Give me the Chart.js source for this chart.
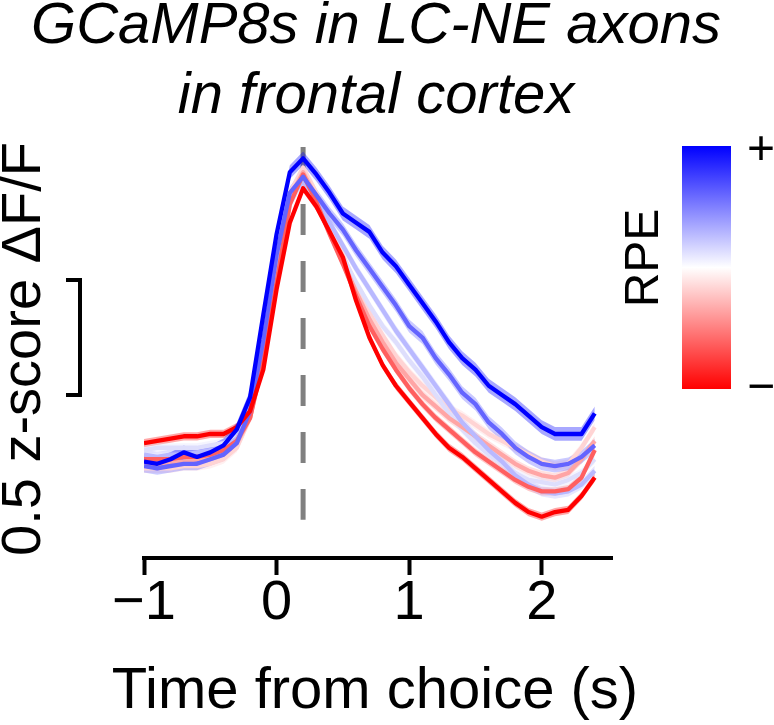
<!DOCTYPE html>
<html><head><meta charset="utf-8">
<script src="https://cdn.jsdelivr.net/npm/chart.js@4.4.1/dist/chart.umd.min.js"></script>
<style>html,body{margin:0;padding:0;background:#fff;}#wrap{width:774px;height:725px;}</style>
</head><body><div id="wrap"><canvas id="c" width="774" height="725"></canvas></div>
<script>
// ---- data ----
const titleLines = ['GCaMP8s in LC-NE axons', 'in frontal cortex'];
const xTitle = 'Time from choice (s)';
const yTitle = '0.5 z-score \u0394F/F';
const colorbarTitle = 'RPE';
const colorbarEnds = ['+', '\u2212'];
const xTickValues = [-1, 0, 1, 2];
const times = [-1.0,-0.9,-0.8,-0.7,-0.6,-0.5,-0.4,-0.3,-0.2,-0.1,0.0,0.1,0.2,0.3,0.4,0.5,0.6,0.7,0.8,0.9,1.0,1.1,1.2,1.3,1.4,1.5,1.6,1.7,1.8,1.9,2.0,2.1,2.2,2.3,2.4];
// RPE bins, highest (blue) to lowest (red); z-score dF/F
const rpeBin1 = [0.01,0.00,0.02,0.05,0.03,0.05,0.08,0.15,0.29,0.65,1.00,1.27,1.33,1.26,1.18,1.09,1.05,1.01,0.92,0.86,0.78,0.70,0.62,0.53,0.46,0.41,0.34,0.30,0.26,0.21,0.16,0.13,0.13,0.13,0.22];
const rpeBin2 = [-0.01,-0.02,-0.01,0.00,0.00,0.02,0.04,0.09,0.23,0.54,0.91,1.18,1.25,1.17,1.09,1.02,0.93,0.85,0.77,0.69,0.60,0.55,0.46,0.39,0.31,0.26,0.18,0.13,0.07,0.03,0.00,-0.01,0.00,0.03,0.08];
const rpeBin3 = [0.04,0.03,0.04,0.04,0.05,0.06,0.07,0.11,0.23,0.52,0.88,1.16,1.23,1.16,1.05,0.95,0.85,0.76,0.67,0.58,0.50,0.42,0.34,0.26,0.18,0.12,0.06,0.01,-0.05,-0.09,-0.12,-0.13,-0.12,-0.09,-0.03];
const rpeBin4 = [0.06,0.07,0.07,0.07,0.07,0.08,0.09,0.12,0.23,0.50,0.84,1.13,1.24,1.13,1.01,0.90,0.79,0.69,0.60,0.53,0.45,0.38,0.30,0.22,0.15,0.09,0.04,0.00,-0.04,-0.07,-0.08,-0.09,-0.07,-0.04,0.02];
const rpeBin5 = [-0.02,-0.02,-0.02,-0.01,-0.01,0.00,0.02,0.07,0.20,0.50,0.85,1.18,1.29,1.18,1.04,0.91,0.78,0.66,0.56,0.47,0.40,0.34,0.29,0.24,0.21,0.17,0.13,0.10,0.07,0.04,0.01,-0.01,0.00,0.07,0.16];
const rpeBin6 = [0.00,0.00,0.01,0.01,0.02,0.03,0.04,0.09,0.20,0.47,0.82,1.16,1.27,1.16,1.01,0.88,0.75,0.63,0.53,0.44,0.37,0.30,0.25,0.20,0.16,0.12,0.08,0.04,0.00,-0.03,-0.05,-0.06,-0.04,0.02,0.10];
const rpeBin7 = [0.02,0.02,0.02,0.03,0.03,0.04,0.06,0.10,0.20,0.45,0.79,1.13,1.26,1.14,1.00,0.87,0.73,0.60,0.50,0.41,0.33,0.26,0.20,0.15,0.10,0.05,0.01,-0.03,-0.07,-0.10,-0.12,-0.12,-0.11,-0.06,0.06];
const rpeBin8 = [0.09,0.10,0.11,0.12,0.12,0.13,0.13,0.16,0.23,0.41,0.76,1.05,1.20,1.12,1.01,0.90,0.71,0.55,0.43,0.34,0.27,0.20,0.13,0.07,0.03,-0.02,-0.07,-0.12,-0.17,-0.21,-0.23,-0.21,-0.20,-0.14,-0.06];
const semValues = [0.03,0.028,0.022,0.02,0.02,0.02,0.018,0.018];
const choiceMarkerTime = 0.2;
const choiceMarkerSpan = [1.38, -0.243];
const scaleBarSpan = [0.3, 0.8];

// ---- styles ----
const FONT = '"Liberation Sans", Arial, Helvetica, sans-serif';
const lineRGB = [[0,0,255],[100,100,255],[185,185,255],[222,222,252],[255,212,212],[255,165,165],[255,95,95],[255,0,0]];
const lineOrder = [3,5,7,9,9,7,5,3];
const seriesValues = [rpeBin1,rpeBin2,rpeBin3,rpeBin4,rpeBin5,rpeBin6,rpeBin7,rpeBin8];

const datasets = [];
datasets.push({
  data: [{x: choiceMarkerTime, y: choiceMarkerSpan[0]}, {x: choiceMarkerTime, y: choiceMarkerSpan[1]}],
  borderColor: 'rgb(128,128,128)', borderWidth: 5, borderDash: [31, 26], pointRadius: 0, fill: false, order: 40
});
seriesValues.forEach((vals, i) => {
  const c = lineRGB[i];
  datasets.push({
    data: times.map((t, k) => ({x: t, y: vals[k] + semValues[i]})),
    borderWidth: 0, borderColor: 'rgba(0,0,0,0)', pointRadius: 0, fill: false, order: 30
  });
  datasets.push({
    data: times.map((t, k) => ({x: t, y: vals[k] - semValues[i]})),
    borderWidth: 0, borderColor: 'rgba(0,0,0,0)', pointRadius: 0, fill: '-1',
    backgroundColor: `rgba(${c[0]},${c[1]},${c[2]},0.34)`, order: 30
  });
});
seriesValues.forEach((vals, i) => {
  const c = lineRGB[i];
  datasets.push({
    data: times.map((t, k) => ({x: t, y: vals[k]})),
    borderColor: `rgb(${c[0]},${c[1]},${c[2]})`, borderWidth: 4.3, pointRadius: 0,
    fill: false, tension: 0, order: lineOrder[i], borderJoinStyle: 'round'
  });
});

const extras = {
  id: 'extras',
  afterDraw(chart) {
    const ctx = chart.ctx; const ys = chart.scales.y; const xs = chart.scales.x;
    ctx.save();
    // scale bar
    const yTop = ys.getPixelForValue(scaleBarSpan[1]);
    const yBot = ys.getPixelForValue(scaleBarSpan[0]);
    ctx.strokeStyle = '#000'; ctx.lineWidth = 4; ctx.lineJoin = 'miter'; ctx.lineCap = 'butt';
    ctx.beginPath(); ctx.moveTo(66, yTop); ctx.lineTo(80, yTop); ctx.lineTo(80, yBot); ctx.lineTo(66, yBot); ctx.stroke();
    // x-axis title
    ctx.fillStyle = '#000';
    ctx.font = '58px ' + FONT; ctx.textAlign = 'center'; ctx.textBaseline = 'alphabetic';
    ctx.fillText(xTitle, (xs.left + xs.right) / 2 - 3, 708);
    // colour bar
    const g = ctx.createLinearGradient(0, 146, 0, 389);
    g.addColorStop(0, 'rgb(0,0,255)'); g.addColorStop(0.5, 'rgb(255,255,255)'); g.addColorStop(1, 'rgb(255,0,0)');
    ctx.fillStyle = g; ctx.fillRect(682, 146, 49, 243);
    ctx.fillStyle = '#000';
    ctx.font = '48px ' + FONT; ctx.textAlign = 'left'; ctx.textBaseline = 'middle';
    ctx.fillText(colorbarEnds[0], 747, 151);
    ctx.fillText(colorbarEnds[1], 747, 389);
    ctx.translate(645, 258); ctx.rotate(-Math.PI / 2);
    ctx.textAlign = 'center'; ctx.fillText(colorbarTitle, 0, 0);
    ctx.restore();
  }
};

new Chart(document.getElementById('c'), {
  type: 'line',
  data: { datasets },
  plugins: [extras],
  options: {
    responsive: false, animation: false, devicePixelRatio: 1,
    layout: { padding: { top: -7.8, right: 22, bottom: 0, left: 0 } },
    plugins: {
      legend: { display: false }, tooltip: { enabled: false },
      title: { display: true, text: titleLines, color: '#000',
        font: { family: FONT, size: 58, style: 'italic', weight: 'normal', lineHeight: 1.2 },
        padding: { top: 0, bottom: 8.6 } }
    },
    scales: {
      x: {
        type: 'linear', position: 'bottom', min: -1, max: 2.53,
        border: { display: true, color: '#000', width: 4 },
        grid: { display: true, drawOnChartArea: false, drawTicks: true, tickLength: 17, tickWidth: 4, tickColor: '#000', color: '#000' },
        ticks: { color: '#000', font: { family: FONT, size: 56 }, padding: -5, maxRotation: 0, autoSkip: false,
          callback: v => (v < 0 ? '\u2212' + Math.abs(v) : String(v)) },
        afterBuildTicks: s => { s.ticks = xTickValues.map(v => ({ value: v })); },
        title: { display: false },
        afterFit: s => { s.height = 167; }
      },
      y: {
        type: 'linear', position: 'left', min: -0.41, max: 1.41,
        border: { display: false }, grid: { display: false }, ticks: { display: false },
        title: { display: true, text: yTitle, color: '#000', font: { family: FONT, size: 56, lineHeight: 1 }, padding: { top: -3, bottom: 0 } },
        afterFit: s => { s.width = 144; }
      },
      yr: {
        type: 'linear', position: 'right', min: 0, max: 1, display: true,
        border: { display: false }, grid: { display: false }, ticks: { display: false },
        afterFit: s => { s.width = 140; }
      }
    }
  }
});
</script></body></html>
